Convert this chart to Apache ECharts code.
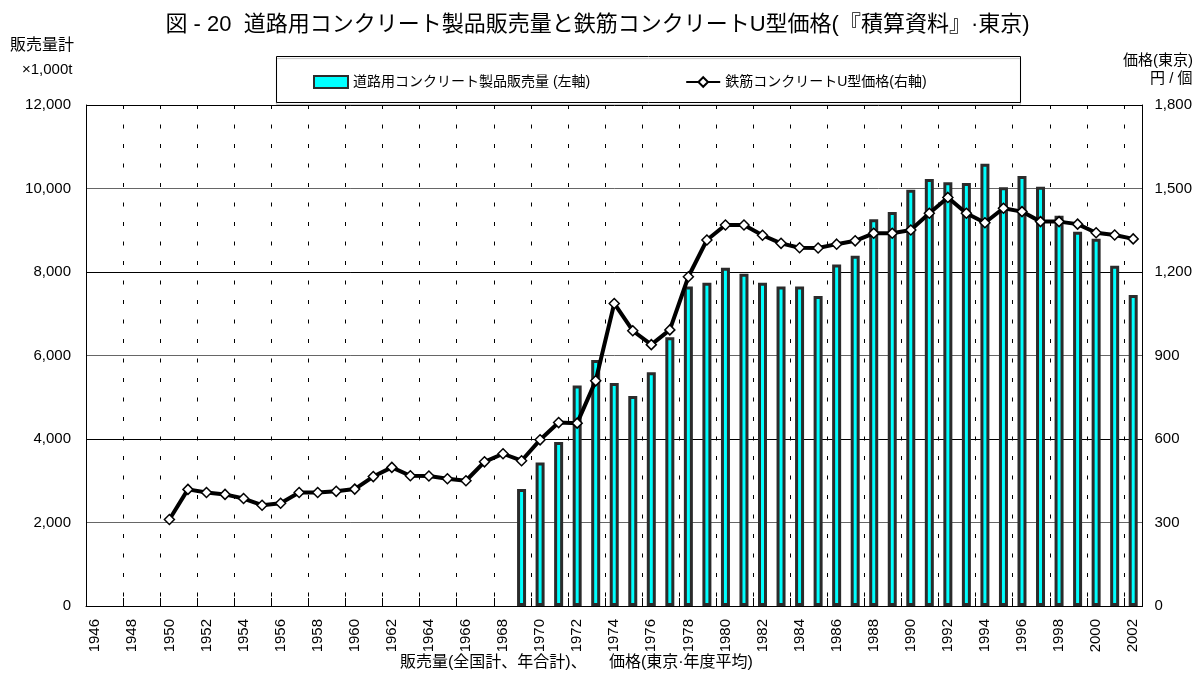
<!DOCTYPE html>
<html>
<head>
<meta charset="utf-8">
<script src="https://cdn.jsdelivr.net/npm/echarts@6/dist/echarts.min.js"></script>
<style>html,body{margin:0;padding:0;background:#fff;}#c{width:1195px;height:678px;}</style>
</head>
<body>
<div id="c"></div>
<script>
const years = [];
for (let y = 1946; y <= 2002; y++) years.push(String(y));

// 道路用コンクリート製品販売量 (×1,000t), 1946–2002
const sales = [
  null, null, null, null, null, null, null, null, null, null,   // 1946-1955
  null, null, null, null, null, null, null, null, null, null,   // 1956-1965
  null, null, null,                                             // 1966-1968
  2800, 3440, 3930, 5280, 5890, 5340, 5030, 5600, 6440, 7650,   // 1969-1978
  7745, 8100, 7960, 7745, 7650, 7650, 7425, 8180, 8390, 9265,   // 1979-1988
  9435, 9970, 10225, 10150, 10130, 10590, 10030, 10300, 10040, 9345, // 1989-1998
  8965, 8795, 8150, 7450                                        // 1999-2002
];

// 鉄筋コンクリートU型価格 (円/個), 1946–2002
const price = [
  null, null, null, null,                                       // 1946-1949
  311, 419, 408, 401, 386, 362, 369, 408, 408, 412,             // 1950-1959
  420, 465, 498, 468, 467, 457, 450, 518, 547, 522,             // 1960-1969
  597, 659, 657, 809, 1087, 989, 939, 992, 1183, 1315,          // 1970-1979
  1369, 1369, 1332, 1303, 1287, 1286, 1300, 1312, 1339, 1339,   // 1980-1989
  1351, 1411, 1468, 1411, 1377, 1429, 1417, 1381, 1381, 1372,   // 1990-1999
  1341, 1333, 1319                                              // 2000-2002
];

const leftTicks = { min: 0, max: 12000, interval: 2000 };
const rightTicks = { min: 0, max: 1800, interval: 300 };

const FONT = "'Liberation Sans', 'Noto Sans CJK JP', sans-serif";
const NARROW = "'Liberation Sans Narrow', 'Liberation Sans', 'Noto Sans CJK JP', sans-serif";

const chart = echarts.init(document.getElementById('c'), null, { renderer: 'canvas' });
const fmt = v => String(v).replace(/\B(?=(\d{3})+(?!\d))/g, ',');

chart.setOption({
  animation: false,
  backgroundColor: '#fff',
  textStyle: { fontFamily: FONT, color: '#000' },
  title: {
    text: '図 - 20  道路用コンクリート製品販売量と鉄筋コンクリートU型価格(『積算資料』·東京)',
    left: 'center',
    top: 9,
    textStyle: { fontFamily: FONT, fontSize: 22, fontWeight: 'normal', color: '#000' }
  },
  legend: {
    left: 308,
    top: 70,
    itemGap: 95,
    itemWidth: 34,
    itemHeight: 12,
    textStyle: { fontFamily: FONT, fontSize: 14, color: '#000' },
    data: [
      { name: '道路用コンクリート製品販売量 (左軸)', icon: 'rect' },
      { name: '鉄筋コンクリートU型価格(右軸)' }
    ]
  },
  graphic: [
    { type: 'rect', left: 274, top: 54, shape: { width: 744, height: 46 },
      style: { fill: 'none', stroke: '#000', lineWidth: 1, shadowColor: 'rgba(0,0,0,0.25)', shadowOffsetY: 2, shadowBlur: 1 }, silent: true },
    { type: 'text', left: 10, top: 38, style: { text: '販売量計', font: "16px 'Liberation Sans', 'Noto Sans CJK JP'", fill: '#000' } },
    { type: 'text', left: 22, top: 62, style: { text: '×1,000t', font: "15px 'Liberation Sans', 'Noto Sans CJK JP'", fill: '#000' } },
    { type: 'text', left: 1123, top: 53, style: { text: '価格(東京)', font: "15px 'Liberation Sans Narrow', 'Liberation Sans', 'Noto Sans CJK JP'", fill: '#000' } },
    { type: 'text', left: 1150, top: 71, style: { text: '円 / 個', font: "15px 'Liberation Sans', 'Noto Sans CJK JP'", fill: '#000' } },
    { type: 'text', left: 400, top: 655, style: { text: '販売量(全国計、年合計)、     価格(東京·年度平均)', font: "16px 'Liberation Sans', 'Noto Sans CJK JP'", fill: '#000' } }
  ],
  grid: { left: 86, right: 51, top: 105, bottom: 72, containLabel: false },
  xAxis: {
    type: 'category',
    data: years,
    boundaryGap: true,
    axisLine: { show: true, lineStyle: { color: '#000', width: 1 } },
    axisTick: { show: true, inside: true, length: 8, interval: 1, lineStyle: { color: '#000' } },
    axisLabel: { interval: 1, rotate: 90, margin: 13, fontSize: 15, fontFamily: NARROW, color: '#000' },
    splitLine: { show: true, interval: 1, lineStyle: { color: '#000', width: 1, type: [4, 15.5] } }
  },
  yAxis: [
    {
      type: 'value', min: leftTicks.min, max: leftTicks.max, interval: leftTicks.interval,
      axisLine: { show: true, lineStyle: { color: '#000', width: 1 } },
      axisTick: { show: false },
      axisLabel: { fontSize: 15, color: '#000', margin: 15, fontFamily: FONT, formatter: fmt },
      splitLine: { show: true, lineStyle: { color: ['#000', '#666'], width: 1 } }
    },
    {
      type: 'value', min: rightTicks.min, max: rightTicks.max, interval: rightTicks.interval,
      position: 'right',
      axisLine: { show: true, lineStyle: { color: '#000', width: 1 } },
      axisTick: { show: false },
      axisLabel: { fontSize: 15, color: '#000', margin: 12, fontFamily: FONT, formatter: fmt },
      splitLine: { show: false }
    }
  ],
  series: [
    {
      name: '道路用コンクリート製品販売量 (左軸)',
      type: 'bar',
      yAxisIndex: 0,
      data: sales,
      barWidth: 9,
      itemStyle: { color: '#00FFFF', borderColor: '#2b2b2b', borderWidth: 3 },
      z: 2
    },
    {
      name: '鉄筋コンクリートU型価格(右軸)',
      type: 'line',
      yAxisIndex: 1,
      data: price,
      symbol: 'diamond',
      symbolSize: 10,
      showAllSymbol: true,
      connectNulls: false,
      lineStyle: { color: '#000', width: 4 },
      itemStyle: { color: '#fff', borderColor: '#000', borderWidth: 1.5 },
      z: 5
    }
  ]
});
</script>
</body>
</html>
